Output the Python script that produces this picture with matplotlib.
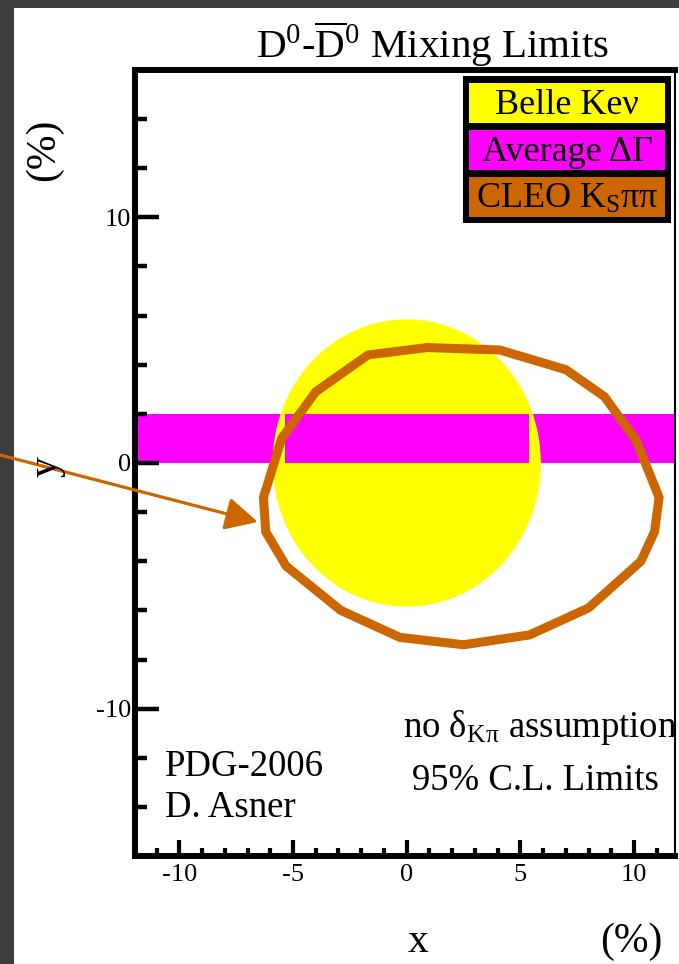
import matplotlib
matplotlib.use("Agg")
import matplotlib.pyplot as plt
from matplotlib.patches import Ellipse, Rectangle, Polygon
from matplotlib.ticker import MultipleLocator, FixedLocator
import numpy as np

plt.rcParams['font.family'] = ['Liberation Serif', 'DejaVu Serif']
plt.rcParams['mathtext.fontset'] = 'custom'
plt.rcParams['mathtext.rm'] = 'Liberation Serif'
plt.rcParams['mathtext.it'] = 'Liberation Serif:italic'
plt.rcParams['mathtext.bf'] = 'Liberation Serif:bold'

# ---------------- data ----------------
# Belle K e nu : 95% CL circle (center x, center y, full width, full height) in %
belle_center = (0.0, 0.0)
belle_size = (11.8, 11.7)

# Average Delta Gamma band in y (%)
dg_y_low = 0.0
dg_y_high = 2.0
dg_inner_x = (-5.35, 5.4)

# CLEO K_S pi pi 95% CL contour vertices (x %, y %)
cleo_x = [-6.3, -5.5, -4.0, -1.7, 0.9, 4.1, 7.0, 8.7, 10.1, 11.1, 10.9, 10.3,
          8.0, 5.4, 2.5, -0.3, -2.9, -5.3, -6.2]
cleo_y = [-1.4, 1.0, 2.9, 4.4, 4.7, 4.6, 3.8, 2.7, 0.9, -1.4, -2.8, -4.0,
          -5.9, -7.0, -7.4, -7.1, -6.0, -4.2, -2.8]

# arrow tip (data)
arrow_tip = (-6.55, -2.4)

legend_labels = ['Belle Keν', 'Average ΔΓ', r'CLEO K$_{\mathrm{S}}$ππ']
legend_colors = ['#ffff00', '#ff00ff', '#cc6600']

x_major = [-10, -5, 0, 5, 10]
y_major = [-10, 0, 10]

YELLOW = '#ffff00'
MAGENTA = '#ff00ff'
ORANGE = '#cc6600'

W, H = 679, 964
fig = plt.figure(figsize=(W / 100, H / 100), dpi=100)
fig.patch.set_facecolor('#3d3d3d')
fig.patches.append(Rectangle((14 / W, 0), 1 - 14 / W, 1 - 8 / H,
                             transform=fig.transFigure, facecolor='white',
                             edgecolor='none', zorder=-10))


def fx(px):
    return px / W


def fy(py):
    return 1 - py / H


ax = fig.add_axes([fx(135), fy(856), fx(675) - fx(135), fy(70) - fy(856)])
ax.set_xlim(-11.95, 11.8)
ax.set_ylim(-16, 16)
ax.set_facecolor('white')

# magenta band (full)
ax.axhspan(dg_y_low, dg_y_high, color=MAGENTA, lw=0, zorder=1)
# yellow circle
ax.add_patch(Ellipse(belle_center, belle_size[0], belle_size[1],
                     facecolor=YELLOW, edgecolor='none', zorder=2))
# magenta band inner
ax.add_patch(Rectangle((dg_inner_x[0], dg_y_low), dg_inner_x[1] - dg_inner_x[0],
                       dg_y_high - dg_y_low, facecolor=MAGENTA,
                       edgecolor='none', zorder=3))
# CLEO contour
ax.add_patch(Polygon(np.column_stack([cleo_x, cleo_y]), closed=True,
                     fill=False, edgecolor=ORANGE, lw=6.5, joinstyle='miter',
                     zorder=4))

# arrow
ax.annotate('', xy=arrow_tip, xycoords='data',
            xytext=(0, fy(455)), textcoords='figure fraction',
            arrowprops=dict(arrowstyle='-|>,head_length=0.55,head_width=0.28',
                            color=ORANGE, lw=2.3, mutation_scale=36,
                            shrinkA=0, shrinkB=0),
            annotation_clip=False, zorder=10)

# spines / ticks
for s in ['left', 'top', 'bottom']:
    ax.spines[s].set_linewidth(4.3)
ax.spines['right'].set_linewidth(1.5)

ax.xaxis.set_major_locator(FixedLocator(x_major))
ax.xaxis.set_minor_locator(MultipleLocator(1))
ax.yaxis.set_major_locator(FixedLocator(y_major))
ax.yaxis.set_minor_locator(MultipleLocator(2))
ax.tick_params(axis='y', which='major', direction='in', length=17, width=3.2,
               labelsize=19, pad=3)
ax.tick_params(axis='y', which='minor', direction='in', length=8.5, width=3.2)
ax.tick_params(axis='x', which='major', direction='in', length=11.5, width=3,
               labelsize=19, pad=6)
ax.tick_params(axis='x', which='minor', direction='in', length=6, width=3)
ax.set_xticklabels([str(v) for v in x_major])
ax.set_yticklabels([str(v) for v in y_major])

# title
fig.text(fx(432), fy(58), r'D$^{\mathrm{0}}$-$\overline{\mathrm{D}}^{\mathrm{0}}$ Mixing Limits',
         ha='center', va='baseline', fontsize=29.5)

# axis labels
fig.text(fx(418), fy(952), 'x', ha='center', va='baseline', fontsize=30)
fig.text(fx(631), fy(952), '(%)', ha='center', va='baseline', fontsize=30)
fig.text(fx(44), fy(150), '(%)', ha='center', va='center', fontsize=30, rotation=90)
fig.text(fx(46), fy(467), 'y', ha='center', va='center', fontsize=30, rotation=90)

# annotations
fig.text(fx(403), fy(737), r'no δ$_{\mathrm{Kπ}}$ assumption', ha='left',
         va='baseline', fontsize=26.5)
fig.text(fx(535), fy(790), '95% C.L. Limits', ha='center', va='baseline',
         fontsize=26.5)
fig.text(fx(165), fy(776), 'PDG-2006', ha='left', va='baseline', fontsize=26.5)
fig.text(fx(165), fy(817), 'D. Asner', ha='left', va='baseline', fontsize=26.5)

# legend
fig.patches.append(Rectangle((fx(463), fy(223)), fx(671) - fx(463), fy(76) - fy(223),
                             transform=fig.transFigure, facecolor='black',
                             edgecolor='none', zorder=5))
box_tops = [83, 130, 177]
for lab, col, top in zip(legend_labels, legend_colors, box_tops):
    fig.patches.append(Rectangle((fx(469), fy(top + 40)), fx(665) - fx(469),
                                 fy(top) - fy(top + 40),
                                 transform=fig.transFigure, facecolor=col,
                                 edgecolor='none', zorder=6))
    fig.text(fx(567), fy(top + 31), lab, ha='center', va='baseline',
             fontsize=26, zorder=7)

fig.savefig('out.png', dpi=100, facecolor=fig.get_facecolor())
